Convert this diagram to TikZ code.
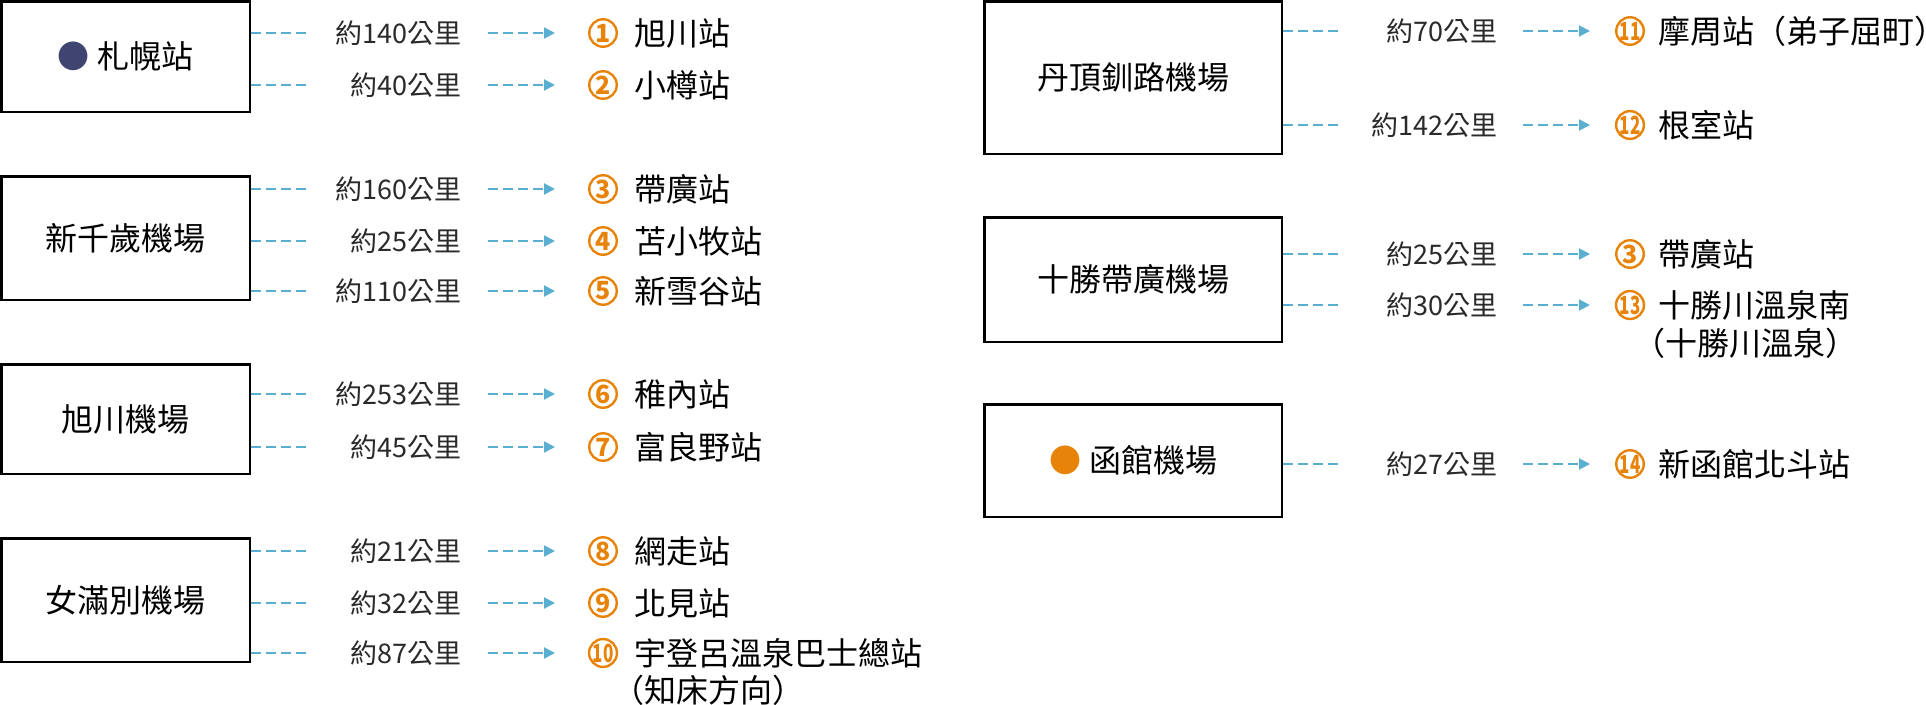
\documentclass[tikz,border=0pt]{standalone}
\usepackage{fontspec}
\newfontfamily\cjk{Noto Sans CJK TC}
\usetikzlibrary{arrows.meta}
\definecolor{dashblue}{HTML}{5AAFD0}
\definecolor{numorange}{HTML}{E8830A}
\definecolor{navy}{HTML}{3F4570}
\definecolor{disttext}{HTML}{2A2A2A}

\newcommand\twodig[1]{\scalebox{0.68}[1]{#1}}

% one destination row: #1 id, #2 box name, #3 y, #4 distance, #5 number, #6 station
\newcommand\legrow[6]{%
  \coordinate (s#1) at (\xs,#3);
  \node[dist, anchor=east] (d#1) at (\xl,#3) {#4};
  \coordinate (a#1) at (\xa,#3);
  \coordinate (e#1) at (\xb,#3);
  \node[num] (n#1) at (\xc,#3) {#5};
  \node[stn, anchor=west] (t#1) at (\xn,#3) {#6};
  \draw[dashln] (#2.east |- s#1) -- (s#1);
  \draw[dashln, -{Triangle[length=11pt,width=11pt]}] (a#1) -- (e#1);
}

\begin{document}
\begin{tikzpicture}[x=1pt,y=-1pt,
  box/.style={draw=black, line width=2.5pt, fill=white, inner sep=0,
    font=\cjk\fontsize{32}{38}\selectfont},
  dist/.style={font=\cjk\fontsize{27}{32}\selectfont, inner sep=0, text=disttext},
  num/.style={circle, draw=numorange, line width=2.4pt, minimum size=27.5pt, inner sep=0,
    font=\cjk\bfseries\fontsize{25}{28}\selectfont, text=numorange},
  stn/.style={font=\cjk\fontsize{32}{38}\selectfont, inner sep=0, text=black},
  dashln/.style={draw=dashblue, line width=2pt, dash pattern=on 10pt off 5pt}]

\useasboundingbox[fill=white] (0,0) rectangle (1926,704);

% ---------- left column boxes ----------
\node[box, minimum width=248.5pt, minimum height=110.5pt] (B1) at (125.5,56.5)
  {{\color{navy}●}\hspace{8pt}札幌站};
\node[box, minimum width=248.5pt, minimum height=123.5pt] (B2) at (125.5,238) {新千歲機場};
\node[box, minimum width=248.5pt, minimum height=109.5pt] (B3) at (125.5,419) {旭川機場};
\node[box, minimum width=248.5pt, minimum height=123.5pt] (B4) at (125.5,600) {女滿別機場};

% ---------- right column boxes ----------
\node[box, minimum width=297.5pt, minimum height=152.5pt] (B5) at (1133,77.5) {丹頂釧路機場};
\node[box, minimum width=297.5pt, minimum height=124.5pt] (B6) at (1133,279.5) {十勝帶廣機場};
\node[box, minimum width=297.5pt, minimum height=112.5pt] (B7) at (1133,460.5)
  {{\color{numorange}●}\hspace{8pt}函館機場};

% ---------- left column rows ----------
\def\xs{307}\def\xl{462}\def\xa{488}\def\xb{555}\def\xc{603}\def\xn{634}
\legrow{1}{B1}{33}{約140公里}{1}{旭川站}
\legrow{2}{B1}{85}{約40公里}{2}{小樽站}
\legrow{3}{B2}{189}{約160公里}{3}{帶廣站}
\legrow{4}{B2}{241}{約25公里}{4}{苫小牧站}
\legrow{5}{B2}{291}{約110公里}{5}{新雪谷站}
\legrow{6}{B3}{394}{約253公里}{6}{稚內站}
\legrow{7}{B3}{447}{約45公里}{7}{富良野站}
\legrow{8}{B4}{551}{約21公里}{8}{網走站}
\legrow{9}{B4}{603}{約32公里}{9}{北見站}
\legrow{10}{B4}{653}{約87公里}{\twodig{10}}{宇登呂溫泉巴士總站}
\node[stn, anchor=west] (t10b) at (612,690) {（知床方向）};

% ---------- right column rows ----------
\def\xs{1339}\def\xl{1498}\def\xa{1523}\def\xb{1590}\def\xc{1630}\def\xn{1658}
\legrow{11}{B5}{31}{約70公里}{\twodig{11}}{摩周站（弟子屈町）}
\legrow{12}{B5}{125}{約142公里}{\twodig{12}}{根室站}
\legrow{13}{B6}{254}{約25公里}{3}{帶廣站}
\legrow{14}{B6}{305}{約30公里}{\twodig{13}}{十勝川溫泉南}
\node[stn, anchor=west] (t14b) at (1633,343) {（十勝川溫泉）};
\legrow{15}{B7}{464}{約27公里}{\twodig{14}}{新函館北斗站}

\end{tikzpicture}
\end{document}
